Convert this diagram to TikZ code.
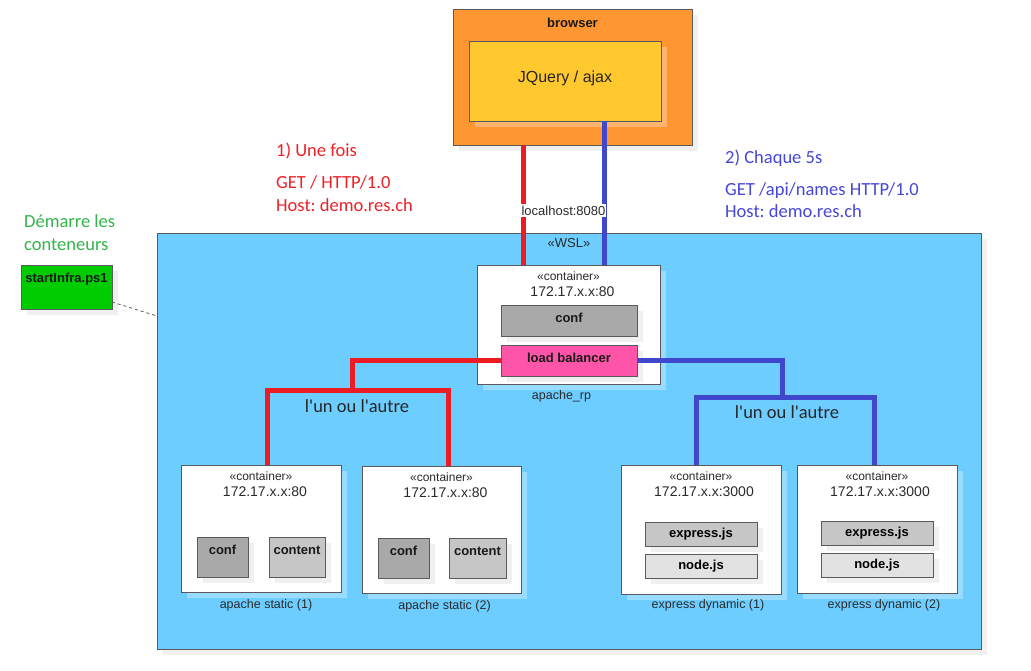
\documentclass[tikz,border=0pt]{standalone}
\usepackage{fontspec}
\setmainfont{Liberation Sans}
\newfontfamily\calib{Carlito}
\usetikzlibrary{shadows}
\definecolor{orangeB}{HTML}{FF9632}
\definecolor{yellowJ}{HTML}{FFC82E}
\definecolor{wslblue}{HTML}{6DCDFF}
\definecolor{grayA}{HTML}{A9A9A9}
\definecolor{grayC}{HTML}{C6C6C6}
\definecolor{grayE}{HTML}{E2E2E2}
\definecolor{pinkLB}{HTML}{FF55A8}
\definecolor{greenS}{HTML}{00CC00}
\definecolor{redL}{HTML}{ED1C24}
\definecolor{blueL}{HTML}{3F48CC}
\definecolor{redT}{HTML}{EE2028}
\definecolor{blueT}{HTML}{4646D8}
\definecolor{greenT}{HTML}{33B54A}
\definecolor{bordc}{HTML}{5A5A5A}
\definecolor{txtc}{HTML}{2A2A2A}
\newcommand{\fs}[1]{\fontsize{#1}{#1}\selectfont}
\frenchspacing
\begin{document}
\begin{tikzpicture}[x=1pt,y=-1pt,
  box/.style={draw=bordc, line width=1pt, anchor=north west, inner sep=0pt, outer sep=0pt},
  shW/.style={drop shadow={shadow xshift=6pt,shadow yshift=-6pt,fill=black!6,opacity=1}},
  shC/.style={drop shadow={shadow xshift=6pt,shadow yshift=-6pt,fill=white,opacity=0.3}},
  toptxt/.style={label={[anchor=base, inner sep=0pt, yshift=-17pt, font=\bfseries\fs{13}, text=black!90]north:#1}},
  redline/.style={draw=redL, line width=5pt, line join=miter},
  blueline/.style={draw=blueL, line width=5pt, line join=miter},
  ctext/.style={anchor=base, inner sep=0pt, text=txtc},
  cal/.style={anchor=base west, inner sep=0pt, font=\calib\fs{18.5}}
]
\useasboundingbox (0,0) rectangle (1031,670);
\fill[white] (0,0) rectangle (1031,670);

% browser
\node[box, shW, fill=orangeB, minimum width=239pt, minimum height=136pt,
  label={[anchor=base, inner sep=0pt, yshift=-18pt, font=\bfseries\fs{13}, text=black!90]north:browser}]
  (browser) at (453,9) {};
\node[box, shC, fill=yellowJ, minimum width=192pt, minimum height=80pt,
  label={[anchor=base, inner sep=0pt, yshift=-41pt, font=\fs{16}, text=black!85]north:JQuery / ajax}]
  (jq) at (469,41) {};

% WSL
\node[box, shW, fill=wslblue, minimum width=824pt, minimum height=416pt] (wsl) at (157,233) {};
\node[ctext, font=\fs{13}] (wsllbl) at (569,247.5) {«WSL»};

% start script
\node[box, shW, fill=greenS, minimum width=91pt, minimum height=44pt, toptxt=startInfra.ps1] (si) at (21,265) {};
\draw[bordc, line width=0.8pt, dash pattern=on 3pt off 3pt] (si.east |- 0,302) -- (wsl.west |- 0,316);

% apache_rp
\node[box, shC, fill=white, minimum width=183pt, minimum height=119pt] (rp) at (477,265) {};
\node[ctext, font=\fs{12}] (rpc) at ([yshift=-15pt]rp.north) {«container»};
\node[ctext, font=\fs{14}] (rpip) at ([xshift=4pt,yshift=-31pt]rp.north) {172.17.x.x:80};
\node[ctext, font=\fs{12.5}] (rplbl) at ([xshift=-7pt,yshift=-15pt]rp.south) {apache\_rp};
\node[box, shW, fill=grayA, minimum width=136pt, minimum height=31pt, toptxt=conf] (rpconf) at (501,305) {};
\node[box, shW, fill=pinkLB, minimum width=136pt, minimum height=31pt, toptxt=load balancer] (lb) at (501,345) {};

% static containers
\node[box, shC, fill=white, minimum width=160pt, minimum height=127pt] (s1) at (181,465) {};
\node[ctext, font=\fs{12}] (s1c) at ([yshift=-15pt]s1.north) {«container»};
\node[ctext, font=\fs{14}] (s1ip) at ([xshift=4pt,yshift=-31pt]s1.north) {172.17.x.x:80};
\node[ctext, font=\fs{12.5}] (s1lbl) at ([xshift=5pt,yshift=-16pt]s1.south) {apache static (1)};
\node[box, shW, fill=grayA, minimum width=51pt, minimum height=40pt, toptxt=conf] (s1conf) at (197,537) {};
\node[box, shW, fill=grayC, minimum width=56pt, minimum height=40pt, toptxt=content] (s1cont) at (269,537) {};

\node[box, shC, fill=white, minimum width=159pt, minimum height=127pt] (s2) at (362,466) {};
\node[ctext, font=\fs{12}] (s2c) at ([yshift=-15pt]s2.north) {«container»};
\node[ctext, font=\fs{14}] (s2ip) at ([xshift=4pt,yshift=-31pt]s2.north) {172.17.x.x:80};
\node[ctext, font=\fs{12.5}] (s2lbl) at ([xshift=3pt,yshift=-16pt]s2.south) {apache static (2)};
\node[box, shW, fill=grayA, minimum width=51pt, minimum height=40pt, toptxt=conf] (s2conf) at (378,538) {};
\node[box, shW, fill=grayC, minimum width=57pt, minimum height=40pt, toptxt=content] (s2cont) at (449,538) {};

% express containers
\node[box, shC, fill=white, minimum width=160pt, minimum height=129pt] (e1) at (621,465) {};
\node[ctext, font=\fs{12}] (e1c) at ([yshift=-15pt]e1.north) {«container»};
\node[ctext, font=\fs{14}] (e1ip) at ([xshift=3pt,yshift=-31pt]e1.north) {172.17.x.x:3000};
\node[ctext, font=\fs{12.5}] (e1lbl) at ([xshift=7pt,yshift=-14pt]e1.south) {express dynamic (1)};
\node[box, shW, fill=grayC, minimum width=112pt, minimum height=24pt, font=\bfseries\fs{13}] (e1x) at (645,522) {express.js};
\node[box, shW, fill=grayE, minimum width=112pt, minimum height=24pt, font=\bfseries\fs{13}] (e1n) at (645,554) {node.js};

\node[box, shC, fill=white, minimum width=160pt, minimum height=128pt] (e2) at (797,465) {};
\node[ctext, font=\fs{12}] (e2c) at ([yshift=-15pt]e2.north) {«container»};
\node[ctext, font=\fs{14}] (e2ip) at ([xshift=3pt,yshift=-31pt]e2.north) {172.17.x.x:3000};
\node[ctext, font=\fs{12.5}] (e2lbl) at ([xshift=7pt,yshift=-15pt]e2.south) {express dynamic (2)};
\node[box, shW, fill=grayC, minimum width=112pt, minimum height=24pt, font=\bfseries\fs{13}] (e2x) at (821,521) {express.js};
\node[box, shW, fill=grayE, minimum width=112pt, minimum height=24pt, font=\bfseries\fs{13}] (e2n) at (821,553) {node.js};

% connectors from browser
\draw[redline] (523,0 |- browser.south) -- (523,0 |- rp.north);
\draw[blueline] (604,0 |- jq.south) -- (604,0 |- rp.north);
\node[anchor=base, fill=white, inner xsep=1pt, inner ysep=2pt, font=\fs{13}, text=txtc] (lh) at (563.5,215) {localhost:8080};

% red tree
\draw[redline] (lb.west) -| (352,390);
\draw[redline] (267,0 |- s1.north) -- (267,390) -- (448,390) -- (448,0 |- s2.north);
% blue tree
\draw[blueline] (lb.east) -| (782,397);
\draw[blueline] (696,0 |- e1.north) -- (696,397) -- (874,397) -- (874,0 |- e2.north);

\node[anchor=base, inner sep=0pt, font=\calib\fs{18.5}, text=black!85] (ou1) at (357,412.3) {l'un ou l'autre};
\node[anchor=base, inner sep=0pt, font=\calib\fs{18.5}, text=black!85] (ou2) at (787,418.3) {l'un ou l'autre};

% annotations
\node[cal, text=redT] (r1) at (276,156.7) {1) Une fois};
\node[cal, text=redT] (r2) at (276,188.3) {GET / HTTP/1.0};
\node[cal, text=redT] (r3) at (276,211.7) {Host: demo.res.ch};
\node[cal, text=blueT] (b1) at (725,163.3) {2) Chaque 5s};
\node[cal, text=blueT] (b2) at (725,195.7) {GET /api/names HTTP/1.0};
\node[cal, text=blueT] (b3) at (725,217.7) {Host: demo.res.ch};
\node[cal, text=greenT] (g1) at (24,227.3) {Démarre les};
\node[cal, text=greenT] (g2) at (24,250) {conteneurs};
\end{tikzpicture}
\end{document}
